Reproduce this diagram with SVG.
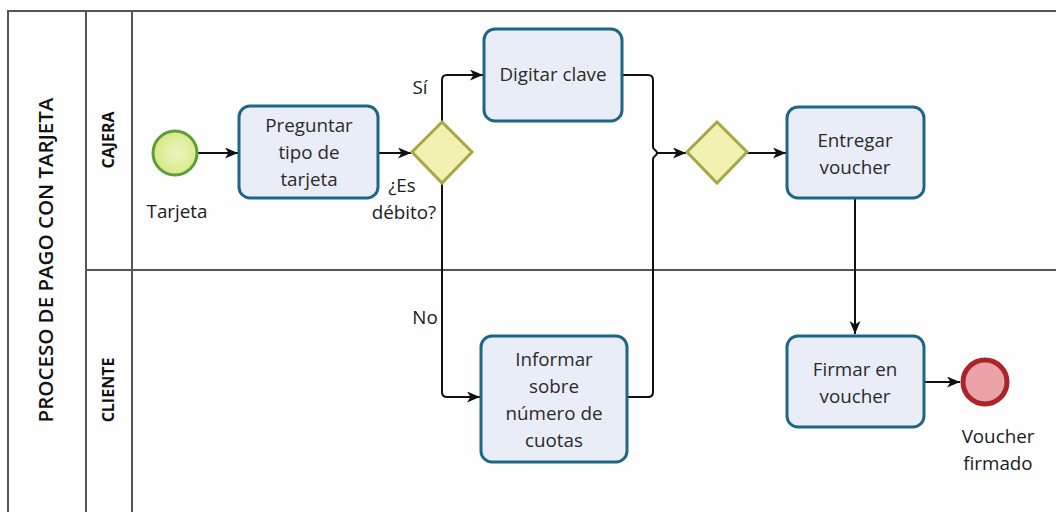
<svg xmlns="http://www.w3.org/2000/svg" width="1056" height="512" viewBox="0 0 1056 512">
  <defs>
    <style>
      .pool { fill: none; stroke: #555; stroke-width: 2; }
      .task rect { fill: #e9edf7; stroke: #1e6686; stroke-width: 3; }
      .gw polygon { fill: #f3f1b2; stroke: #a7a845; stroke-width: 3; }
      .t { font-family: "Open Sans", "DejaVu Sans", sans-serif; font-size: 18.8px; fill: #2a2a2a; text-anchor: middle; }
      .lab { font-family: "Open Sans", "DejaVu Sans", sans-serif; font-size: 18.8px; fill: #1a1a1a; text-anchor: middle; }
      .lane { font-family: "Open Sans", "DejaVu Sans", sans-serif; font-size: 16px; font-weight: 700; fill: #111; text-anchor: middle; }
      .title { font-family: "Open Sans", "DejaVu Sans", sans-serif; font-size: 20.5px; font-weight: 600; fill: #111; text-anchor: middle; }
      .flow { fill: none; stroke: #111; stroke-width: 2; }
    </style>
    <marker id="arrow" markerUnits="userSpaceOnUse" markerWidth="14" markerHeight="12" refX="13" refY="5.5" orient="auto">
      <path d="M0,0 L13,5.5 L0,11 L3.5,5.5 z" fill="#111"/>
    </marker>
    <radialGradient id="startFill" cx="0.55" cy="0.5" r="0.6">
      <stop offset="0" stop-color="#eef5c0"/>
      <stop offset="1" stop-color="#d3e77f"/>
    </radialGradient>
  </defs>

  <rect width="1056" height="512" fill="#fefefe"/>

  <!-- pool and lanes -->
  <g id="pool">
    <path class="pool" d="M8,512 V11 H1056"/>
    <path class="pool" d="M86,11 V512"/>
    <path class="pool" d="M132,11 V512"/>
    <path class="pool" d="M86,270 H1056"/>
    <text class="title" transform="translate(53,260) rotate(-90)">PROCESO DE PAGO CON TARJETA</text>
    <text class="lane" transform="translate(114,140) rotate(-90)">CAJERA</text>
    <text class="lane" transform="translate(114,390) rotate(-90)">CLIENTE</text>
  </g>

  <!-- sequence flows -->
  <g id="connectors">
    <path class="flow" d="M198,153 H238" marker-end="url(#arrow)"/>
    <path class="flow" d="M379,153 H411" marker-end="url(#arrow)"/>
    <path class="flow" d="M442,122 V80 Q442,75 447,75 H483" marker-end="url(#arrow)"/>
    <path class="flow" d="M442,183 V392 Q442,397 447,397 H480" marker-end="url(#arrow)"/>
    <path class="flow" d="M622,75 H648 Q653,75 653,80 V147 C653,150 657,150 657,153"/>
    <path class="flow" d="M628,397 H648 Q653,397 653,392 V159 C653,156 657,156 657,153"/>
    <path class="flow" d="M657,153 H686" marker-end="url(#arrow)"/>
    <path class="flow" d="M747,153 H786" marker-end="url(#arrow)"/>
    <path class="flow" d="M855,198 V334" marker-end="url(#arrow)"/>
    <path class="flow" d="M924,382 H960" marker-end="url(#arrow)"/>
    <text class="lab" x="420" y="94">Sí</text>
    <text class="lab" x="425" y="324">No</text>
  </g>

  <g id="start">
    <circle cx="175" cy="153" r="22" fill="url(#startFill)" stroke="#5a9f3a" stroke-width="3"/>
    <text class="lab" x="177" y="218">Tarjeta</text>
  </g>

  <g id="preguntar" class="task">
    <rect x="239" y="106" width="139" height="92" rx="11"/>
    <text class="t" x="309" y="132">Preguntar</text>
    <text class="t" x="309" y="159">tipo de</text>
    <text class="t" x="309" y="186">tarjeta</text>
  </g>

  <g id="gw-debito" class="gw">
    <polygon points="442,122 472,152 442,183 412,152"/>
    <text class="lab" x="402" y="192">¿Es</text>
    <text class="lab" x="404" y="219">débito?</text>
  </g>

  <g id="digitar" class="task">
    <rect x="484" y="29" width="138" height="92" rx="11"/>
    <text class="t" x="553" y="81">Digitar clave</text>
  </g>

  <g id="informar" class="task">
    <rect x="481" y="336" width="146" height="126" rx="11"/>
    <text class="t" x="554" y="366">Informar</text>
    <text class="t" x="554" y="393">sobre</text>
    <text class="t" x="554" y="420">número de</text>
    <text class="t" x="554" y="447">cuotas</text>
  </g>

  <g id="gw-join" class="gw">
    <polygon points="717,122 747,152 717,183 687,152"/>
  </g>

  <g id="entregar" class="task">
    <rect x="787" y="107" width="137" height="91" rx="11"/>
    <text class="t" x="855" y="147">Entregar</text>
    <text class="t" x="855" y="174">voucher</text>
  </g>

  <g id="firmar" class="task">
    <rect x="787" y="336" width="137" height="91" rx="11"/>
    <text class="t" x="855" y="376">Firmar en</text>
    <text class="t" x="855" y="403">voucher</text>
  </g>

  <g id="end">
    <circle cx="985" cy="382" r="22" fill="#eba3a9" stroke="#a9242b" stroke-width="5"/>
    <text class="lab" x="998" y="443">Voucher</text>
    <text class="lab" x="998" y="470">firmado</text>
  </g>
</svg>
